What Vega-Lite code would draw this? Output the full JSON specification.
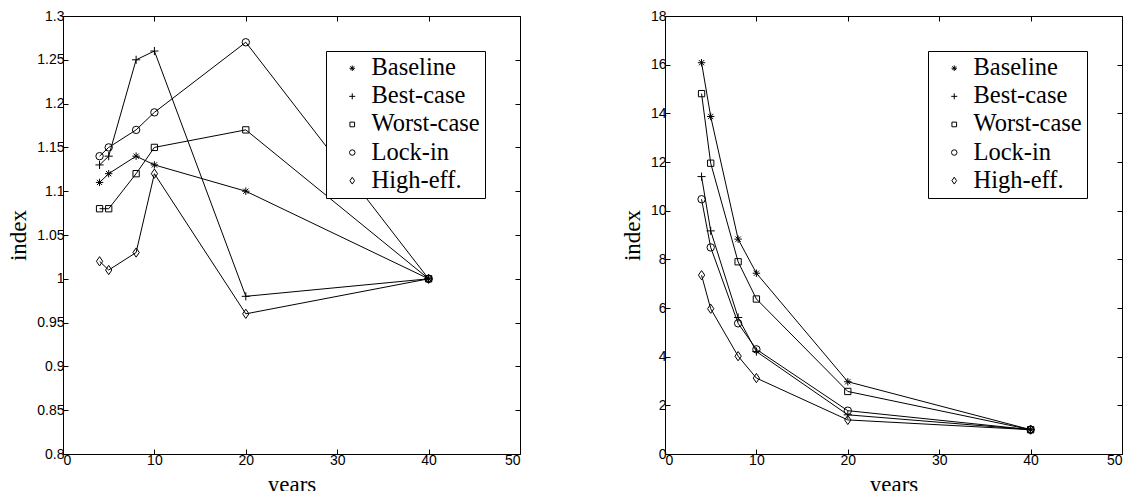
{
  "$schema": "https://vega.github.io/schema/vega-lite/v6.json",
  "padding": {"left": 7, "top": 8, "right": 5, "bottom": 0},
  "background": "white",
  "bounds": "flush",
  "spacing": 145,
  "datasets": {
    "left": [
      {"s": "Baseline", "x": 4, "y": 1.11}, {"s": "Baseline", "x": 5, "y": 1.12}, {"s": "Baseline", "x": 8, "y": 1.14}, {"s": "Baseline", "x": 10, "y": 1.13}, {"s": "Baseline", "x": 20, "y": 1.10}, {"s": "Baseline", "x": 40, "y": 1.00},
      {"s": "Best-case", "x": 4, "y": 1.13}, {"s": "Best-case", "x": 5, "y": 1.14}, {"s": "Best-case", "x": 8, "y": 1.25}, {"s": "Best-case", "x": 10, "y": 1.26}, {"s": "Best-case", "x": 20, "y": 0.98}, {"s": "Best-case", "x": 40, "y": 1.00},
      {"s": "Worst-case", "x": 4, "y": 1.08}, {"s": "Worst-case", "x": 5, "y": 1.08}, {"s": "Worst-case", "x": 8, "y": 1.12}, {"s": "Worst-case", "x": 10, "y": 1.15}, {"s": "Worst-case", "x": 20, "y": 1.17}, {"s": "Worst-case", "x": 40, "y": 1.00},
      {"s": "Lock-in", "x": 4, "y": 1.14}, {"s": "Lock-in", "x": 5, "y": 1.15}, {"s": "Lock-in", "x": 8, "y": 1.17}, {"s": "Lock-in", "x": 10, "y": 1.19}, {"s": "Lock-in", "x": 20, "y": 1.27}, {"s": "Lock-in", "x": 40, "y": 1.00},
      {"s": "High-eff.", "x": 4, "y": 1.02}, {"s": "High-eff.", "x": 5, "y": 1.01}, {"s": "High-eff.", "x": 8, "y": 1.03}, {"s": "High-eff.", "x": 10, "y": 1.12}, {"s": "High-eff.", "x": 20, "y": 0.96}, {"s": "High-eff.", "x": 40, "y": 1.00}
    ],
    "right": [
      {"s": "Baseline", "x": 4, "y": 16.08}, {"s": "Baseline", "x": 5, "y": 13.87}, {"s": "Baseline", "x": 8, "y": 8.83}, {"s": "Baseline", "x": 10, "y": 7.43}, {"s": "Baseline", "x": 20, "y": 2.97}, {"s": "Baseline", "x": 40, "y": 1.00},
      {"s": "Best-case", "x": 4, "y": 11.4}, {"s": "Best-case", "x": 5, "y": 9.17}, {"s": "Best-case", "x": 8, "y": 5.61}, {"s": "Best-case", "x": 10, "y": 4.21}, {"s": "Best-case", "x": 20, "y": 1.61}, {"s": "Best-case", "x": 40, "y": 1.00},
      {"s": "Worst-case", "x": 4, "y": 14.81}, {"s": "Worst-case", "x": 5, "y": 11.95}, {"s": "Worst-case", "x": 8, "y": 7.9}, {"s": "Worst-case", "x": 10, "y": 6.37}, {"s": "Worst-case", "x": 20, "y": 2.57}, {"s": "Worst-case", "x": 40, "y": 1.00},
      {"s": "Lock-in", "x": 4, "y": 10.47}, {"s": "Lock-in", "x": 5, "y": 8.49}, {"s": "Lock-in", "x": 8, "y": 5.37}, {"s": "Lock-in", "x": 10, "y": 4.3}, {"s": "Lock-in", "x": 20, "y": 1.78}, {"s": "Lock-in", "x": 40, "y": 1.00},
      {"s": "High-eff.", "x": 4, "y": 7.35}, {"s": "High-eff.", "x": 5, "y": 5.97}, {"s": "High-eff.", "x": 8, "y": 4.02}, {"s": "High-eff.", "x": 10, "y": 3.12}, {"s": "High-eff.", "x": 20, "y": 1.40}, {"s": "High-eff.", "x": 40, "y": 1.00}
    ]
  },
  "hconcat": [
    {
      "width": 457,
      "height": 438,
      "data": {"name": "left"},
      "layer": [
        {
          "mark": {"type": "line", "color": "black", "strokeWidth": 1},
          "encoding": {
            "x": {"field": "x", "type": "quantitative", "scale": {"domain": [0, 50], "nice": false}, "axis": {"title": "years", "values": [0, 10, 20, 30, 40, 50], "orient": "bottom"}},
            "y": {"field": "y", "type": "quantitative", "scale": {"domain": [0.8, 1.3], "nice": false, "zero": false}, "axis": {"title": "index", "values": [0.8, 0.85, 0.9, 0.95, 1, 1.05, 1.1, 1.15, 1.2, 1.25, 1.3], "format": "~g", "orient": "left"}},
            "detail": {"field": "s"}
          }
        },
        {
          "mark": {"type": "point", "filled": false, "color": "black", "strokeWidth": 1, "size": 55, "opacity": 1},
          "encoding": {
            "x": {"field": "x", "type": "quantitative", "axis": null},
            "y": {"field": "y", "type": "quantitative", "axis": null},
            "shape": {
              "field": "s", "type": "nominal",
              "scale": {"domain": ["Baseline", "Best-case", "Worst-case", "Lock-in", "High-eff."], "range": ["M-1,0L1,0M0,-1L0,1M-0.7,-0.7L0.7,0.7M-0.7,0.7L0.7,-0.7", "M-1.1,0L1.1,0M0,-1.1L0,1.1", "M-0.85,-0.85L0.85,-0.85L0.85,0.85L-0.85,0.85Z", "circle", "M0,-1.25L0.85,0L0,1.25L-0.85,0Z"]},
              "legend": {"title": null, "orient": "none", "legendX": 263, "legendY": 35, "labelFont": "Liberation Serif", "labelFontSize": 24.5}
            }
          }
        },
        {
          "mark": {"type": "point", "opacity": 0},
          "encoding": {
            "x": {"field": "x", "type": "quantitative", "axis": {"orient": "top", "labels": false, "title": null, "values": [0, 10, 20, 30, 40, 50], "domain": false}},
            "y": {"field": "y", "type": "quantitative", "axis": {"orient": "right", "labels": false, "title": null, "values": [0.8, 0.85, 0.9, 0.95, 1, 1.05, 1.1, 1.15, 1.2, 1.25, 1.3], "domain": false}}
          }
        }
      ],
      "resolve": {"axis": {"x": "independent", "y": "independent"}}
    },
    {
      "width": 457,
      "height": 438,
      "data": {"name": "right"},
      "layer": [
        {
          "mark": {"type": "line", "color": "black", "strokeWidth": 1},
          "encoding": {
            "x": {"field": "x", "type": "quantitative", "scale": {"domain": [0, 50], "nice": false}, "axis": {"title": "years", "values": [0, 10, 20, 30, 40, 50], "orient": "bottom"}},
            "y": {"field": "y", "type": "quantitative", "scale": {"domain": [0, 18], "nice": false}, "axis": {"title": "index", "values": [0, 2, 4, 6, 8, 10, 12, 14, 16, 18], "orient": "left"}},
            "detail": {"field": "s"}
          }
        },
        {
          "mark": {"type": "point", "filled": false, "color": "black", "strokeWidth": 1, "size": 55, "opacity": 1},
          "encoding": {
            "x": {"field": "x", "type": "quantitative", "axis": null},
            "y": {"field": "y", "type": "quantitative", "axis": null},
            "shape": {
              "field": "s", "type": "nominal",
              "scale": {"domain": ["Baseline", "Best-case", "Worst-case", "Lock-in", "High-eff."], "range": ["M-1,0L1,0M0,-1L0,1M-0.7,-0.7L0.7,0.7M-0.7,0.7L0.7,-0.7", "M-1.1,0L1.1,0M0,-1.1L0,1.1", "M-0.85,-0.85L0.85,-0.85L0.85,0.85L-0.85,0.85Z", "circle", "M0,-1.25L0.85,0L0,1.25L-0.85,0Z"]},
              "legend": {"title": null, "orient": "none", "legendX": 263, "legendY": 35, "labelFont": "Liberation Serif", "labelFontSize": 24.5}
            }
          }
        },
        {
          "mark": {"type": "point", "opacity": 0},
          "encoding": {
            "x": {"field": "x", "type": "quantitative", "axis": {"orient": "top", "labels": false, "title": null, "values": [0, 10, 20, 30, 40, 50], "domain": false}},
            "y": {"field": "y", "type": "quantitative", "axis": {"orient": "right", "labels": false, "title": null, "values": [0, 2, 4, 6, 8, 10, 12, 14, 16, 18], "domain": false}}
          }
        }
      ],
      "resolve": {"axis": {"x": "independent", "y": "independent"}}
    }
  ],
  "resolve": {"scale": {"shape": "independent"}, "legend": {"shape": "independent"}},
  "config": {
    "view": {"stroke": "black", "strokeWidth": 1},
    "axis": {
      "grid": false,
      "domainColor": "black",
      "domainWidth": 1,
      "tickColor": "black",
      "tickWidth": 1,
      "tickSize": -5,
      "labelColor": "black",
      "labelFont": "Liberation Sans",
      "labelFontSize": 14,
      "labelPadding": 4,
      "titleFont": "Liberation Serif",
      "titleFontSize": 23,
      "titleFontWeight": "normal",
      "titleColor": "black",
      "titlePadding": 6
    },
    "legend": {
      "strokeColor": "black",
      "strokeWidth": 1,
      "fillColor": "white",
      "padding": 5,
      "labelFont": "Liberation Serif",
      "labelFontSize": 24.5,
      "labelColor": "black",
      "labelOffset": 7,
      "labelLimit": 300,
      "symbolOffset": 9,
      "symbolSize": 30,
      "symbolStrokeColor": "black",
      "symbolStrokeWidth": 1,
      "symbolFillColor": "transparent",
      "rowPadding": 3.1
    }
  }
}
